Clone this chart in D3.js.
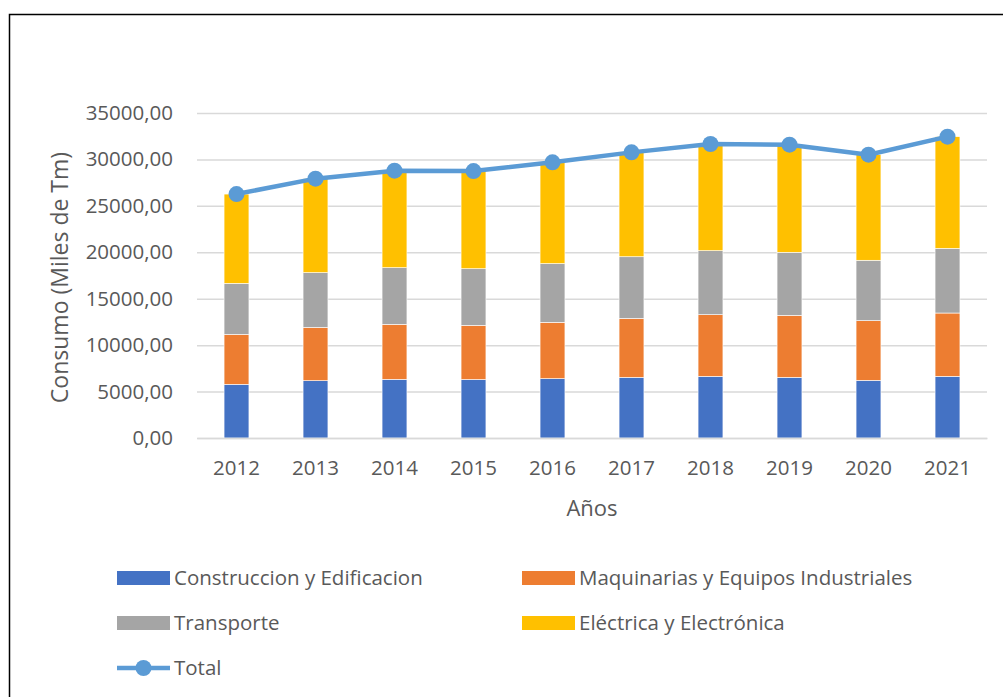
<!DOCTYPE html>
<html>
<head>
<meta charset="utf-8">
<script src="https://cdn.jsdelivr.net/npm/d3@7"></script>
<style>
  body { margin:0; background:#fff; }
  text { font-family:"Open Sans", sans-serif; fill:#595959; }
</style>
</head>
<body>
<div id="canvas"></div>
<script>
// data (miles de Tm)
var years = ['2012','2013','2014','2015','2016','2017','2018','2019','2020','2021'];
var construccion = [5780,6170,6320,6300,6390,6530,6640,6530,6210,6640];
var maquinarias  = [5380,5750,5920,5830,6070,6350,6640,6680,6430,6820];
var transporte   = [5490,5890,6100,6100,6320,6640,6890,6790,6500,6960];
var electrica    = [9620,10120,10450,10520,10910,11240,11490,11590,11380,12030];
var total        = [26270,27930,28790,28750,29690,30760,31660,31590,30510,32450];
var seriesNames  = ['Construccion y Edificacion','Maquinarias y Equipos Industriales','Transporte','Eléctrica y Electrónica'];
var colors = ['#4472c4','#ed7d31','#a5a5a5','#ffc000'];
var yTicks = [0,5000,10000,15000,20000,25000,30000,35000];

var W = 1003, H = 697;
var m = {t:113, r:16, b:259, l:197};
var w = W - m.l - m.r, h = H - m.t - m.b;

var svg = d3.select('#canvas').append('svg')
    .attr('width', W).attr('height', H);

// frame
svg.append('path')
    .attr('d','M9.5,' + H + ' L9.5,14.5 L' + W + ',14.5')
    .attr('fill','none').attr('stroke','#000').attr('stroke-width',1.5);

var plot = svg.append('g').attr('transform','translate(' + m.l + ',' + m.t + ')');

var rows = years.map(function(y, i){
  return {year:y, s0:construccion[i], s1:maquinarias[i], s2:transporte[i], s3:electrica[i], total:total[i]};
});

var scaleX = d3.scaleBand().domain(years).range([0, w]).paddingInner(0.685).paddingOuter(0.3425);
var scaleY = d3.scaleLinear().domain([0, 35000]).range([h, 0]);

// gridlines + y labels
var axisY = d3.axisLeft(scaleY).tickValues(yTicks).tickSize(-w).tickPadding(24)
    .tickFormat(function(d){ return d3.format('.2f')(d).replace('.', ','); });
var gy = plot.append('g').call(axisY);
gy.select('.domain').remove();
gy.selectAll('line').attr('stroke','#d9d9d9').attr('stroke-width',1.5);
gy.selectAll('text').style('font-size','20.5px').attr('fill','#595959');

// stacked bars
var stack = d3.stack().keys(['s0','s1','s2','s3'])(rows);
plot.selectAll('g.layer').data(stack).enter().append('g')
    .attr('class','layer')
    .attr('fill', function(d, i){ return colors[i]; })
  .selectAll('rect').data(function(d){ return d; }).enter().append('rect')
    .attr('x', function(d){ return scaleX(d.data.year); })
    .attr('width', scaleX.bandwidth())
    .attr('y', function(d){ return scaleY(d[1]); })
    .attr('height', function(d){ return scaleY(d[0]) - scaleY(d[1]); })
    .attr('stroke','#fff').attr('stroke-width',0.6);

// x axis
var axisX = d3.axisBottom(scaleX).tickSize(0).tickPadding(22);
var gx = plot.append('g').attr('transform','translate(0,' + h + ')').call(axisX);
gx.select('.domain').attr('stroke','#d9d9d9').attr('stroke-width',1.5);
gx.selectAll('text').style('font-size','20.5px').attr('fill','#595959');

// total line
var line = d3.line()
    .x(function(d){ return scaleX(d.year) + scaleX.bandwidth()/2; })
    .y(function(d){ return scaleY(d.total); });
plot.append('path').datum(rows)
    .attr('d', line).attr('fill','none')
    .attr('stroke','#5b9bd5').attr('stroke-width',4.5).attr('stroke-linejoin','round');
plot.selectAll('circle.tot').data(rows).enter().append('circle')
    .attr('class','tot')
    .attr('cx', function(d){ return scaleX(d.year) + scaleX.bandwidth()/2; })
    .attr('cy', function(d){ return scaleY(d.total); })
    .attr('r', 8).attr('fill','#5b9bd5');

// axis titles
svg.append('text')
    .attr('transform','translate(68,' + (m.t + h/2 + 2) + ') rotate(-90)')
    .attr('text-anchor','middle').style('font-size','23px')
    .text('Consumo (Miles de Tm)');
svg.append('text')
    .attr('x', m.l + w/2).attr('y', 516)
    .attr('text-anchor','middle').style('font-size','22px')
    .text('Años');

// legend
var legItems = seriesNames.map(function(n, i){
  return {name:n, color:colors[i], col:i % 2, row:Math.floor(i/2), type:'rect'};
});
legItems.push({name:'Total', color:'#5b9bd5', col:0, row:2, type:'line'});
var leg = svg.selectAll('g.leg').data(legItems).enter().append('g')
    .attr('class','leg')
    .attr('transform', function(d){ return 'translate(' + (117 + d.col*405) + ',' + (578 + d.row*45) + ')'; });
leg.filter(function(d){ return d.type === 'rect'; }).append('rect')
    .attr('x',0).attr('y',-7).attr('width',53).attr('height',14)
    .attr('fill', function(d){ return d.color; });
leg.filter(function(d){ return d.type === 'line'; }).append('line')
    .attr('x1',0).attr('x2',53).attr('stroke', function(d){ return d.color; }).attr('stroke-width',4.5);
leg.filter(function(d){ return d.type === 'line'; }).append('circle')
    .attr('cx',26.5).attr('r',8).attr('fill', function(d){ return d.color; });
leg.append('text')
    .attr('x',57).attr('dy','0.35em').style('font-size','20.5px')
    .text(function(d){ return d.name; });
</script>
</body>
</html>
